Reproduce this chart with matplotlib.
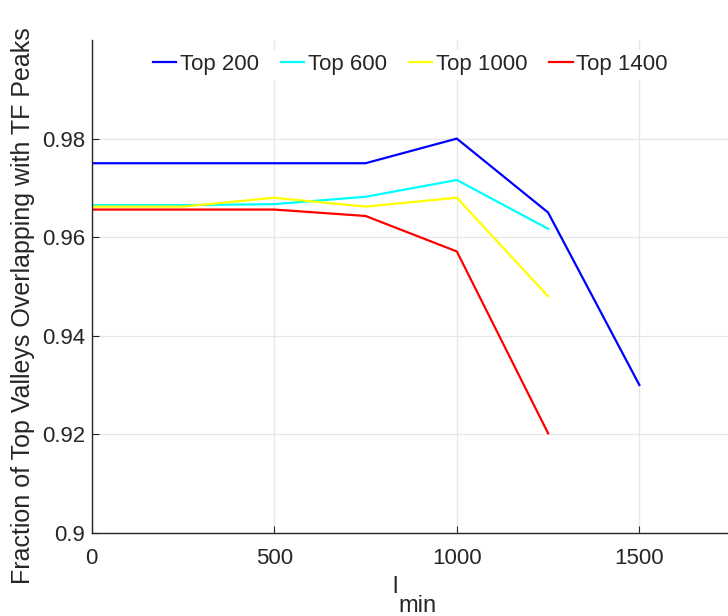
import matplotlib
matplotlib.use("Agg")
import matplotlib.pyplot as plt

plt.rcParams["font.family"] = ["Liberation Sans", "DejaVu Sans"]

l_min = [0, 250, 500, 750, 1000, 1250, 1500]

top200 = [0.975, 0.975, 0.975, 0.975, 0.980, 0.965, 0.930]
top600 = [0.9665, 0.9665, 0.9667, 0.9682, 0.9716, 0.9617]
top1000 = [0.9662, 0.9662, 0.9680, 0.9662, 0.9680, 0.9480]
top1400 = [0.9656, 0.9656, 0.9656, 0.9643, 0.9571, 0.9202]

series = [
    ("Top 200", top200, "#0000ff"),
    ("Top 600", top600, "#00ffff"),
    ("Top 1000", top1000, "#ffff00"),
    ("Top 1400", top1400, "#ff0000"),
]

ink = "#262626"

fig = plt.figure(figsize=(7.28, 6.16), dpi=100)
# axes run past the right edge of the canvas
ax = fig.add_axes([0.126, 0.135, 1.003, 0.800])

for label, vals, color in series:
    ax.plot(l_min[:len(vals)], vals, color=color, lw=1.6, label=label)

ax.set_xlim(0, 2000)
ax.set_ylim(0.9, 1.0)
ax.set_xticks([0, 500, 1000, 1500])
ax.set_yticks([0.9, 0.92, 0.94, 0.96, 0.98])
ax.set_yticklabels(["0.9", "0.92", "0.94", "0.96", "0.98"])
ax.grid(True, color="#e6e6e6", lw=0.9)
ax.set_axisbelow(True)

for side in ("top", "right"):
    ax.spines[side].set_visible(False)
for side in ("left", "bottom"):
    ax.spines[side].set_color(ink)
    ax.spines[side].set_linewidth(1.0)

ax.tick_params(direction="in", length=5, width=0.8, colors=ink, labelsize=16)
ax.tick_params(axis="x", pad=11)
ax.tick_params(axis="y", pad=5)

# x label: "l" with "min" set below it at full size
fig.text(0.542, 0.0373, "l", fontsize=17, color=ink, ha="center", va="baseline")
fig.text(0.547, 0.0065, "min", fontsize=17, color=ink, ha="left", va="baseline")

ax.set_ylabel("Fraction of Top Valleys Overlapping with TF Peaks",
              fontsize=18, color=ink)
ax.yaxis.set_label_coords(-0.078, 0.462)

leg = ax.legend(loc="center left", bbox_to_anchor=(0.078, 0.95), ncol=4,
                frameon=True, framealpha=1.0, edgecolor="none",
                fontsize=16, handlelength=1.05, handletextpad=0.15,
                columnspacing=1.0, borderaxespad=0.0, borderpad=0.2)
for t in leg.get_texts():
    t.set_color(ink)

fig.savefig("out.png", dpi=100)
